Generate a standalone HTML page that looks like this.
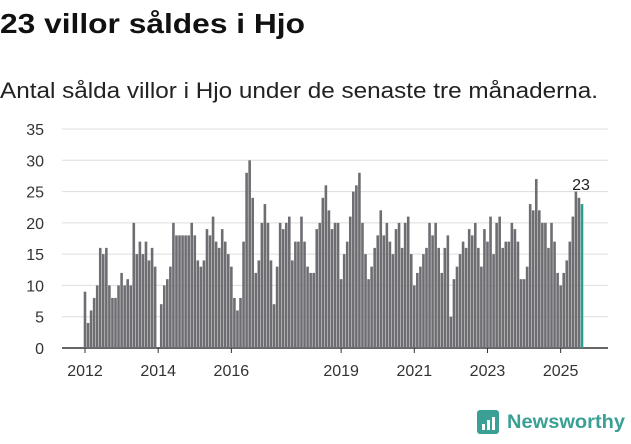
<!DOCTYPE html>
<html><head><meta charset="utf-8"><style>
body{margin:0;width:631px;height:439px;background:#fff;font-family:"Liberation Sans",sans-serif;overflow:hidden}
</style></head><body>
<svg width="631" height="439">
<text x="0" y="33" font-size="28" font-weight="bold" fill="#111" textLength="305" lengthAdjust="spacingAndGlyphs">23 villor såldes i Hjo</text>
<text x="0" y="98" font-size="22" fill="#222" textLength="598" lengthAdjust="spacingAndGlyphs">Antal sålda villor i Hjo under de senaste tre månaderna.</text>
<g id="grid"></g><g id="bars"></g><g id="xax"></g>
<g>
<rect x="477" y="410" width="22" height="24" rx="3" fill="#3aa095"/>
<rect x="482" y="424" width="3" height="6" fill="#fff"/><rect x="487" y="420" width="3" height="10" fill="#fff"/><rect x="492" y="417" width="3" height="13" fill="#fff"/>
<text x="507" y="428" font-size="19" font-weight="bold" fill="#3aa095" textLength="118" lengthAdjust="spacingAndGlyphs">Newsworthy</text></g>
</svg>
<script>
const yTicks=[0,5,10,15,20,25,30,35];
const xTickLabels=["2012","2014","2016","2019","2021","2023","2025"];
const xTickIndex=[0,24,48,84,108,132,156];
const values=[9,4,6,8,10,16,15,16,10,8,8,10,12,10,11,10,20,15,17,15,17,14,16,13,0,7,10,11,13,20,18,18,18,18,18,20,18,14,13,14,19,18,21,17,16,19,17,15,13,8,6,8,17,28,30,24,12,14,20,23,20,14,7,13,20,19,20,21,14,17,17,21,17,13,12,12,19,20,24,26,22,19,20,20,11,15,17,21,25,26,28,20,15,11,13,16,18,22,18,20,17,15,19,20,16,20,21,15,10,12,13,15,16,20,18,20,16,12,16,18,5,11,13,15,17,16,19,18,20,16,13,19,17,21,15,20,21,16,17,17,20,19,17,11,11,13,23,22,27,22,20,20,16,20,17,12,10,12,14,17,21,25,24,23];
const ns="http://www.w3.org/2000/svg";
const x0=85,x1=582,y0=348,ppu=219/35;
const step=(x1-x0)/(values.length-1);
const X=i=>x0+i*step, Y=v=>y0-v*ppu;
function mk(t,a,p){const e=document.createElementNS(ns,t);for(const k in a)e.setAttribute(k,a[k]);p.appendChild(e);return e;}
const g=document.getElementById('grid'),b=document.getElementById('bars'),xa=document.getElementById('xax');
yTicks.forEach(v=>{
 const l=mk('line',{x1:62,x2:608,y1:Y(v),y2:Y(v),stroke:v?'#ddd':'#333','stroke-width':v?1:1.5},g);
 
 
 const t=mk('text',{x:44,y:Y(v)+6,'text-anchor':'end','font-size':16,fill:'#333'},g);t.textContent=v;
 
 
});
values.forEach((v,i)=>{
 const last=i===values.length-1;
 const r=mk('rect',{x:X(i)-1.3,y:Y(v),width:2.6,height:v*ppu,fill:last?'#2a9d8f':'#6e6d72'},b);
 
 
});
const lt=mk('text',{x:X(values.length-1)-1,y:Y(values[values.length-2])-8,'text-anchor':'middle','font-size':16,fill:'#222'},b);
lt.textContent=values[values.length-1];


xTickLabels.forEach((s,k)=>{
 const x=X(xTickIndex[k]);
 mk('line',{x1:x,x2:x,y1:y0,y2:y0+5,stroke:'#333'},xa);
 const t=mk('text',{x:x,y:376,'text-anchor':'middle','font-size':16,fill:'#333'},xa);t.textContent=s;
 
 
});
</script>
</body></html>
